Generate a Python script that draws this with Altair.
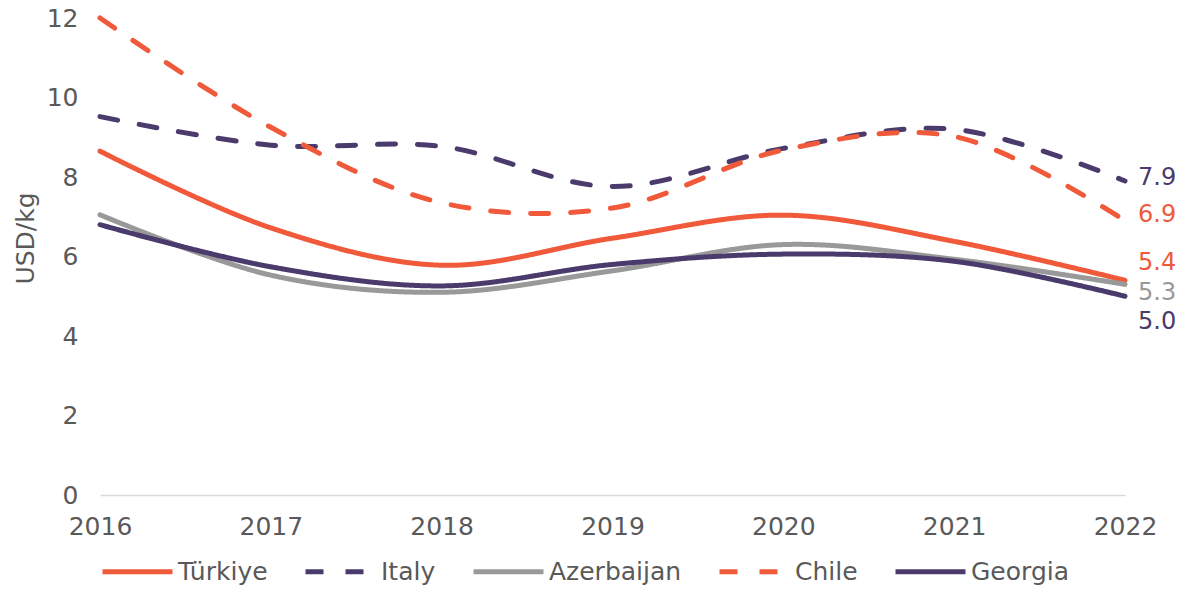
import altair as alt
import pandas as pd

years = [2016, 2017, 2018, 2019, 2020, 2021, 2022]
countries = ["Türkiye", "Italy", "Azerbaijan", "Chile", "Georgia"]
turkiye = [8.65, 6.72, 5.78, 6.46, 7.04, 6.38, 5.4]
italy = [9.52, 8.80, 8.77, 7.76, 8.72, 9.20, 7.9]
azerbaijan = [7.05, 5.53, 5.10, 5.64, 6.30, 5.93, 5.3]
chile = [12.0, 9.25, 7.35, 7.22, 8.68, 9.02, 6.9]
georgia = [6.80, 5.74, 5.26, 5.80, 6.06, 5.88, 5.0]

series = {"Türkiye": turkiye, "Italy": italy, "Azerbaijan": azerbaijan,
          "Chile": chile, "Georgia": georgia}
rows = []
for c in countries:
    for y, v in zip(years, series[c]):
        rows.append({"year": y, "country": c, "value": v})
df = pd.DataFrame(rows)

ORANGE = "#F05A3A"
PURPLE = "#4B3A6C"
GREY = "#999999"
TEXT = "#595959"
FONT = "DejaVu Sans"
colors = {"Türkiye": ORANGE, "Italy": PURPLE, "Azerbaijan": GREY, "Chile": ORANGE, "Georgia": PURPLE}
dashes = {"Türkiye": [1, 0], "Italy": [18, 22], "Azerbaijan": [1, 0], "Chile": [18, 22], "Georgia": [1, 0]}
label_dy = {"Italy": -3, "Chile": -6, "Türkiye": -17, "Azerbaijan": 9, "Georgia": 26}

x_enc = alt.X("year:Q", scale=alt.Scale(domain=[2016, 2022], nice=False, zero=False),
              axis=alt.Axis(values=years, format="d", title=None, ticks=False, tickSize=0,
                            grid=False, labelFlush=False, labelPadding=19,
                            domainColor="#D9D9D9", domainWidth=1.5,
                            labelFontSize=25, labelColor=TEXT, labelFont=FONT))
y_enc = alt.Y("value:Q", scale=alt.Scale(domain=[0, 12], nice=False),
              axis=alt.Axis(values=[0, 2, 4, 6, 8, 10, 12], title="USD/kg", ticks=False, tickSize=0,
                            grid=False, domain=False, labelFlush=False, labelPadding=22,
                            labelFontSize=25, labelColor=TEXT, labelFont=FONT,
                            titleFontSize=25, titleColor=TEXT, titleFont=FONT, titleFontWeight="normal",
                            titleX=-75, titleY=220, titleBaseline="middle", titleAlign="center"))

legend = alt.Legend(title=None, orient="none", legendX=0, legendY=516,
                    direction="horizontal", columns=5, symbolType="stroke",
                    symbolStrokeWidth=5, symbolSize=4900, labelFontSize=25,
                    labelColor=TEXT, labelFont=FONT, labelOffset=3,
                    columnPadding=27, padding=0)

lines = alt.Chart(df).mark_line(strokeWidth=5, strokeCap="round", interpolate="catmull-rom").encode(
    x=x_enc,
    y=y_enc,
    color=alt.Color("country:N", scale=alt.Scale(domain=countries, range=[colors[c] for c in countries]),
                    legend=legend),
    strokeDash=alt.StrokeDash("country:N", scale=alt.Scale(domain=countries, range=[dashes[c] for c in countries]),
                              legend=legend),
    detail="country:N",
)

layers = [lines]
last = df[df["year"] == 2022]
for c in countries:
    d = last[last["country"] == c]
    t = alt.Chart(d).mark_text(align="left", baseline="middle", dx=13, dy=label_dy[c],
                               fontSize=24, font=FONT, color=colors[c]).encode(
        x=alt.X("year:Q"), y=alt.Y("value:Q"), text=alt.Text("value:Q", format=".1f"))
    layers.append(t)

chart = alt.layer(*layers).properties(
    width=1025, height=477,
    autosize=alt.AutoSizeParams(type="none"),
    padding={"left": 92, "top": 10, "right": 50, "bottom": 90},
).configure(font=FONT, view=alt.ViewConfig(stroke=None))

chart.save("out.html", embed_options={"renderer": "svg", "actions": False})
